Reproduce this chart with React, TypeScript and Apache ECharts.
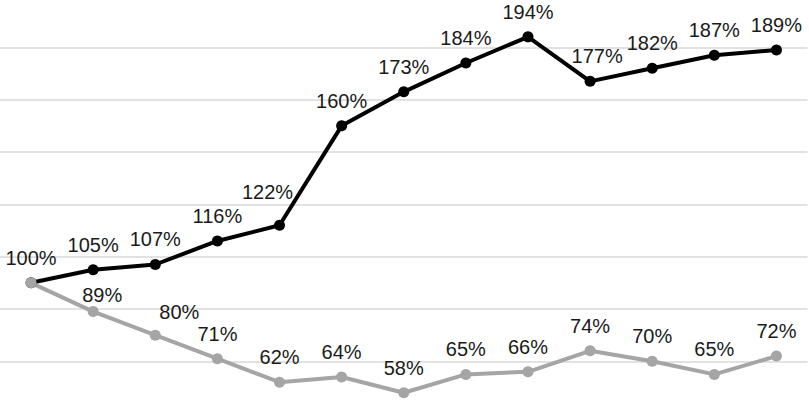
import React, { useEffect, useRef } from "react";
import * as echarts from "echarts";

// Categories (hidden on the chart)
const categories = ["1", "2", "3", "4", "5", "6", "7", "8", "9", "10", "11", "12", "13"];
// Series values in percent
const blackSeries = [100, 105, 107, 116, 122, 160, 173, 184, 194, 177, 182, 187, 189];
const graySeries = [100, 89, 80, 71, 62, 64, 58, 65, 66, 74, 70, 65, 72];

// Label nudges (styling only): index -> [dx, dy]
const blackLabelNudges: Record<number, [number, number]> = { 4: [-12, -8], 9: [7, 0] };
const grayLabelNudges: Record<number, [number, number]> = { 1: [9, 8], 2: [24, 2] };
// The shared 100% start point carries only one label
const grayHiddenLabels = [0];

function build(
  values: number[],
  nudges: Record<number, [number, number]>,
  hidden: number[] = []
) {
  return values.map((v, i) => {
    if (hidden.includes(i)) return { value: v, label: { show: false } };
    return nudges[i] ? { value: v, label: { offset: nudges[i] } } : { value: v };
  });
}

export default function App() {
  const ref = useRef<HTMLDivElement>(null);
  useEffect(() => {
    if (!ref.current) return;
    const chart = echarts.init(ref.current, undefined, { renderer: "svg" });
    const labelStyle = {
      show: true,
      position: "top" as const,
      distance: 9.5,
      formatter: (p: any) => `${p.value}%`,
      color: "#1a1a1a",
      fontSize: 20,
      fontFamily: "'Liberation Sans', Arial, sans-serif",
    };
    chart.setOption({
      animation: false,
      backgroundColor: "#ffffff",
      grid: {
        left: 0,
        right: 1.5,
        top: -5,
        bottom: -118.3,
        containLabel: false,
        outerBoundsMode: "none",
      },
      xAxis: {
        type: "category",
        data: categories,
        boundaryGap: true,
        axisLine: { show: false },
        axisTick: { show: false },
        axisLabel: { show: false },
        splitLine: { show: false },
      },
      yAxis: {
        type: "value",
        min: 10,
        max: 210,
        interval: 20,
        axisLine: { show: false },
        axisTick: { show: false },
        axisLabel: { show: false },
        splitLine: { show: true, lineStyle: { color: "#d9d9d9", width: 1.5 } },
      },
      series: [
        {
          type: "line",
          data: build(blackSeries, blackLabelNudges),
          symbol: "circle",
          symbolSize: 11,
          lineStyle: { color: "#000000", width: 4 },
          itemStyle: { color: "#000000" },
          label: labelStyle,
        },
        {
          type: "line",
          data: build(graySeries, grayLabelNudges, grayHiddenLabels),
          symbol: "circle",
          symbolSize: 11,
          lineStyle: { color: "#a5a5a5", width: 4 },
          itemStyle: { color: "#a5a5a5" },
          label: labelStyle,
        },
      ],
    });
    return () => chart.dispose();
  }, []);
  return (
    <div
      ref={ref}
      style={{ position: "absolute", left: 0, top: 0, width: 809, height: 400 }}
    />
  );
}
